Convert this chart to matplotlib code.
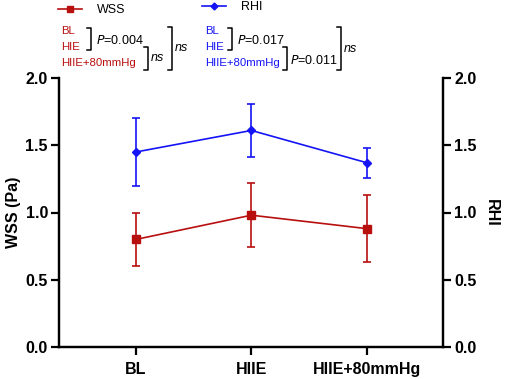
import matplotlib
matplotlib.use("Agg")
import matplotlib.pyplot as plt
from matplotlib.lines import Line2D

plt.rcParams['font.family'] = ['Liberation Sans', 'DejaVu Sans']

# Datos
groups = ['BL', 'HIIE', 'HIIE+80mmHg']
groups_short = ['BL', 'HIE', 'HIIE+80mmHg']
wss_mean = [0.80, 0.98, 0.88]
wss_lo = [0.60, 0.74, 0.63]
wss_hi = [1.00, 1.22, 1.13]
rhi_mean = [1.45, 1.61, 1.37]
rhi_lo = [1.20, 1.41, 1.26]
rhi_hi = [1.70, 1.81, 1.48]

RED = '#B80F0F'
BLUE = '#1414F5'

W, H = 505, 379
fig = plt.figure(figsize=(W / 100, H / 100), dpi=100)


def fx(px):
    return px / W


def fy(py):
    return 1 - py / H


ax = fig.add_axes([fx(59), fy(347), fx(443) - fx(59), fy(78) - fy(347)])
ax2 = ax.twinx()

x = range(len(groups))
ax.errorbar(x, wss_mean,
            yerr=[[m - l for m, l in zip(wss_mean, wss_lo)],
                  [h - m for m, h in zip(wss_mean, wss_hi)]],
            color=RED, marker='s', markersize=6, lw=1.2, capsize=3,
            elinewidth=1.2, capthick=1.2)
ax2.errorbar(x, rhi_mean,
             yerr=[[m - l for m, l in zip(rhi_mean, rhi_lo)],
                   [h - m for m, h in zip(rhi_mean, rhi_hi)]],
             color=BLUE, marker='D', markersize=4, lw=1.2, capsize=3,
             elinewidth=1.2, capthick=1.2)

for a in (ax, ax2):
    a.set_ylim(0, 2.0)
    a.set_yticks([0, 0.5, 1.0, 1.5, 2.0])
    a.set_yticklabels(['0.0', '0.5', '1.0', '1.5', '2.0'],
                      fontweight='bold', fontsize=11.5)
    a.spines['top'].set_visible(False)
    for s in a.spines.values():
        s.set_linewidth(1.6)
    a.tick_params(width=1.6, length=6, pad=2)

ax.set_xlim(-0.667, 2.66)
ax.set_xticks(list(x))
ax.set_xticklabels(groups, fontweight='bold', fontsize=11.5)
ax.tick_params(axis='x', pad=5)
ax.set_ylabel('WSS (Pa)', fontweight='bold', fontsize=11.5, labelpad=3)
ax2.set_ylabel('RHI', fontweight='bold', fontsize=11.5, rotation=270, labelpad=16)

# Leyenda superior
fig.add_artist(Line2D([fx(58), fx(82)], [fy(9), fy(9)], color=RED, lw=1.2))
fig.add_artist(Line2D([fx(70)], [fy(9)], color=RED, marker='s', markersize=5))
fig.text(fx(97), fy(10), 'WSS', fontsize=9, va='center')
fig.add_artist(Line2D([fx(202), fx(226)], [fy(6), fy(6)], color=BLUE, lw=1.2))
fig.add_artist(Line2D([fx(214)], [fy(6)], color=BLUE, marker='D', markersize=3.5))
fig.text(fx(241), fy(7), 'RHI', fontsize=9, va='center')


def bracket(x0, y0, y1, w=4):
    fig.add_artist(Line2D([fx(x0), fx(x0 + w), fx(x0 + w), fx(x0)],
                          [fy(y0), fy(y0), fy(y1), fy(y1)],
                          color='black', lw=1.1))


def labels(x0, color):
    for lab, yy in zip(groups_short, [31, 47, 63]):
        fig.text(fx(x0), fy(yy), lab, color=color, fontsize=8.2, va='center')


labels(61, RED)
bracket(87, 28, 50)
fig.text(fx(96), fy(41), '$\\it{P}$=0.004', fontsize=9, va='center')
bracket(144, 47, 70)
fig.text(fx(151), fy(58), 'ns', fontsize=9, style='italic', va='center')
bracket(168, 27, 70)
fig.text(fx(175), fy(48), 'ns', fontsize=9, style='italic', va='center')

labels(205, BLUE)
bracket(228, 28, 50)
fig.text(fx(237), fy(41), '$\\it{P}$=0.017', fontsize=9, va='center')
bracket(283, 47, 70)
fig.text(fx(290), fy(60), '$\\it{P}$=0.011', fontsize=9, va='center')
bracket(337, 27, 70)
fig.text(fx(344), fy(49), 'ns', fontsize=9, style='italic', va='center')

plt.savefig('out.png', dpi=100)
